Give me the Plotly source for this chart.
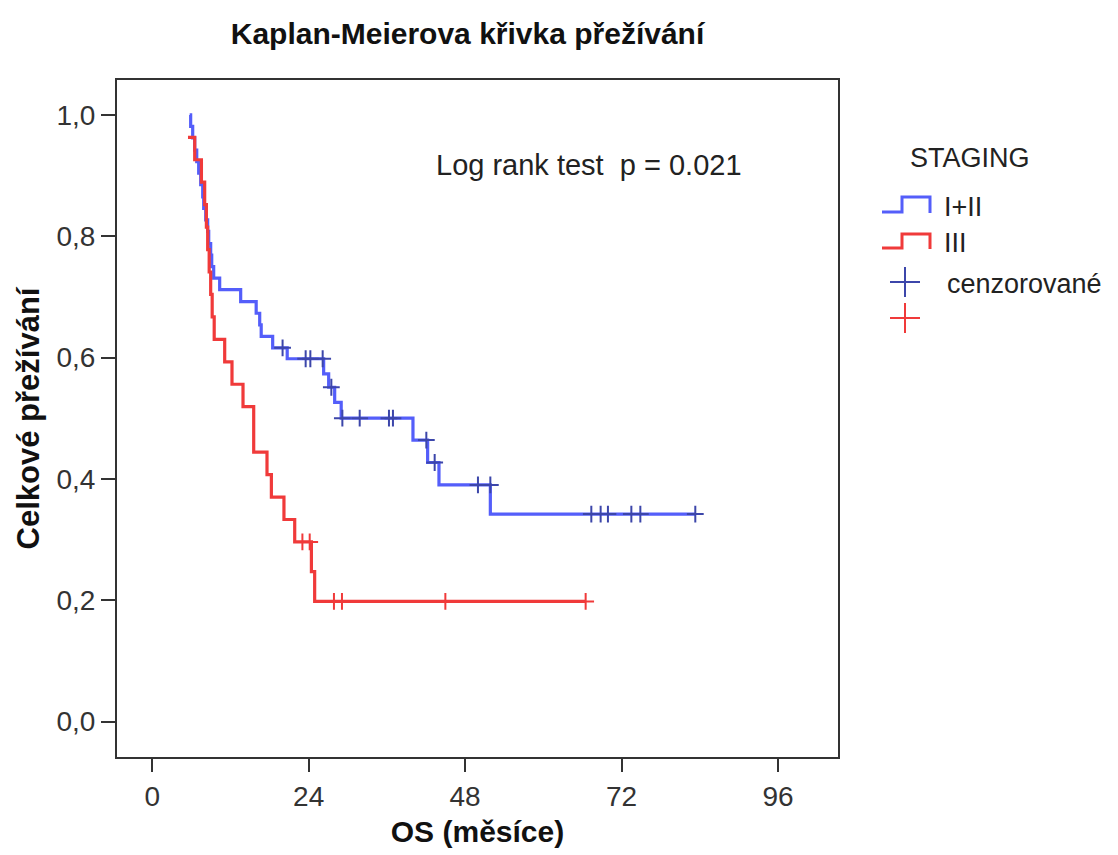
import plotly.graph_objects as go

# ---------------- data ----------------
# Group I+II : Kaplan-Meier step curve (time in months, survival)
blue_t = [5.75, 5.90, 6.21, 6.52, 6.83, 7.13, 7.44, 7.75, 7.90, 8.21, 8.51, 8.67,
          8.97, 9.13, 9.43, 10.35, 13.57, 15.95, 16.49, 16.72, 18.48, 20.71,
          26.30, 27.07, 27.99, 28.99, 40.00, 42.25, 43.99, 51.87, 83.31]
blue_s = [1.000, 0.981, 0.962, 0.942, 0.923, 0.904, 0.885, 0.865, 0.846, 0.827,
          0.808, 0.788, 0.769, 0.750, 0.731, 0.712, 0.692, 0.673, 0.654, 0.635,
          0.616, 0.598, 0.573, 0.551, 0.526, 0.500, 0.464, 0.427, 0.390, 0.342,
          0.342]
# censored observations, group I+II
blue_ct = [20.0, 23.54, 24.26, 26.15, 27.48, 29.17, 31.83, 36.32, 36.93, 42.05,
           43.33, 49.97, 51.87, 67.36, 68.79, 69.91, 73.50, 74.88, 83.31]
blue_cs = [0.616, 0.598, 0.598, 0.598, 0.551, 0.500, 0.500, 0.500, 0.500, 0.464,
           0.427, 0.390, 0.390, 0.342, 0.342, 0.342, 0.342, 0.342, 0.342]

# Group III
red_t = [5.49, 6.52, 7.55, 8.05, 8.31, 8.51, 8.74, 8.97, 9.20, 9.51, 11.12, 12.24,
         13.93, 15.57, 17.61, 18.28, 20.21, 21.86, 24.42, 24.92, 66.49]
red_s = [0.963, 0.926, 0.889, 0.852, 0.815, 0.778, 0.741, 0.704, 0.667, 0.630,
         0.593, 0.556, 0.519, 0.444, 0.407, 0.370, 0.333, 0.296, 0.247, 0.198,
         0.198]
red_ct = [23.04, 24.16, 27.88, 29.11, 44.97, 66.49]
red_cs = [0.296, 0.296, 0.198, 0.198, 0.198, 0.198]

x_ticks = [0, 24, 48, 72, 96]
y_ticks = [0.0, 0.2, 0.4, 0.6, 0.8, 1.0]
y_ticklabels = ["0,0", "0,2", "0,4", "0,6", "0,8", "1,0"]

groups = ["I+II", "III"]
legend_title = "STAGING"
censor_label = "cenzorované"

# ---------------- styling ----------------
BLUE = "rgb(84,94,250)"
BLUE_C = "rgb(60,70,170)"
RED = "rgb(240,58,58)"
RED_C = "rgb(240,58,58)"
FONT = "Liberation Sans, Arial, sans-serif"
AX = "#333333"

W, H = 1118, 855
L, R, T, B = 117, 838, 80, 757  # plot frame in pixels

fig = go.Figure()
fig.add_trace(go.Scatter(x=blue_t, y=blue_s, mode="lines", line=dict(color=BLUE, width=3.2, shape="hv"),
                         showlegend=False, hoverinfo="skip"))
fig.add_trace(go.Scatter(x=red_t, y=red_s, mode="lines", line=dict(color=RED, width=3.2, shape="hv"),
                         showlegend=False, hoverinfo="skip"))
fig.add_trace(go.Scatter(x=blue_ct, y=blue_cs, mode="markers",
                         marker=dict(symbol="cross-thin", size=12, line=dict(color=BLUE_C, width=2)),
                         showlegend=False, hoverinfo="skip"))
fig.add_trace(go.Scatter(x=red_ct, y=red_cs, mode="markers",
                         marker=dict(symbol="cross-thin", size=12, line=dict(color=RED_C, width=2)),
                         showlegend=False, hoverinfo="skip"))


def px(x):
    return (x - L) / (R - L)


def py(y):
    return (B - y) / (B - T)


shapes = []
annotations = []
LEG_SIZE = 27

# legend title
annotations.append(dict(x=px(908), y=py(158), xref="paper", yref="paper", text=legend_title,
                        showarrow=False, xanchor="left", yanchor="middle",
                        font=dict(family=FONT, size=LEG_SIZE, color="#222222")))
# step icons
for (lo, hi), col, lab, yc in [((212, 197), BLUE, groups[0], 207), ((248, 234), RED, groups[1], 243)]:
    path = "M {} {} L {} {} L {} {} L {} {} L {} {}".format(
        px(882), py(lo), px(902), py(lo), px(902), py(hi), px(930), py(hi), px(930), py(lo + 1))
    shapes.append(dict(type="path", path=path, xref="paper", yref="paper",
                       line=dict(color=col, width=3)))
    annotations.append(dict(x=px(942), y=py(yc), xref="paper", yref="paper", text=lab,
                            showarrow=False, xanchor="left", yanchor="middle",
                            font=dict(family=FONT, size=LEG_SIZE, color="#222222")))
# censor icons
for col, yc in [(BLUE_C, 282), (RED_C, 318)]:
    shapes.append(dict(type="line", xref="paper", yref="paper", x0=px(890), x1=px(920), y0=py(yc), y1=py(yc),
                       line=dict(color=col, width=2)))
    shapes.append(dict(type="line", xref="paper", yref="paper", x0=px(905), x1=px(905), y0=py(yc - 15),
                       y1=py(yc + 15), line=dict(color=col, width=2)))
annotations.append(dict(x=px(945), y=py(284), xref="paper", yref="paper", text=censor_label,
                        showarrow=False, xanchor="left", yanchor="middle",
                        font=dict(family=FONT, size=LEG_SIZE, color="#222222")))

# log rank annotation
annotations.append(dict(x=px(434), y=py(165), xref="paper", yref="paper", text="Log rank test  p = 0.021",
                        showarrow=False, xanchor="left", yanchor="middle",
                        font=dict(family=FONT, size=29, color="#222222")))

fig.update_layout(
    width=W, height=H,
    margin=dict(l=L, r=W - R, t=T, b=H - B, pad=0),
    paper_bgcolor="white", plot_bgcolor="white",
    title=dict(text="<b>Kaplan-Meierova křivka přežívání</b>", x=(215 + 720) / 2 / W, xanchor="center",
               y=1 - 33 / H, yanchor="middle", font=dict(family=FONT, size=30, color="#111111")),
    shapes=shapes, annotations=annotations,
    xaxis=dict(range=[-5.4, 105.2], tickvals=x_ticks, ticktext=[str(v) for v in x_ticks],
               showgrid=False, zeroline=False, showline=True, linecolor=AX, linewidth=2, mirror=True,
               ticks="outside", ticklen=13, tickwidth=2, tickcolor=AX,
               tickfont=dict(family=FONT, size=28, color="#333333"),
               title=dict(text="<b>OS (měsíce)</b>", font=dict(family=FONT, size=30, color="#111111"),
                          standoff=10)),
    yaxis=dict(range=[-0.0585, 1.0575], tickvals=y_ticks, ticktext=y_ticklabels,
               showgrid=False, zeroline=False, showline=True, linecolor=AX, linewidth=2, mirror=True,
               ticks="outside", ticklen=14, tickwidth=2, tickcolor=AX,
               tickfont=dict(family=FONT, size=28, color="#333333"),
               title=dict(text="<b>Celkové přežívání</b>", font=dict(family=FONT, size=31, color="#111111"),
                          standoff=8)),
)

fig.write_html("out.html")
